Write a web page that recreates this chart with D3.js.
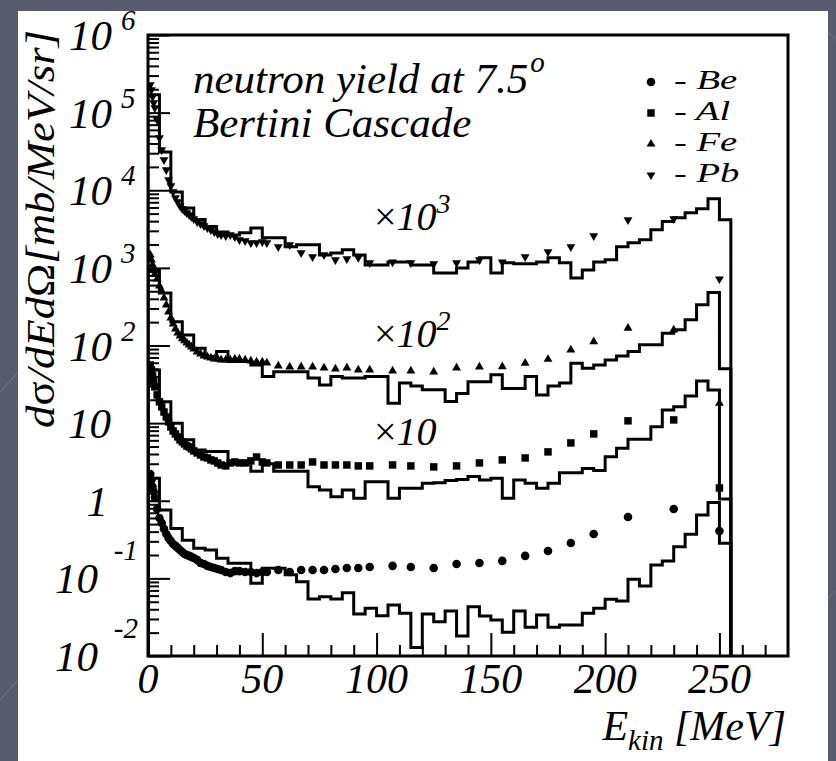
<!DOCTYPE html>
<html><head><meta charset="utf-8">
<script src="https://cdn.jsdelivr.net/npm/d3@7"></script>
<style>
body{margin:0;background:#585b6b;}
svg{display:block}
text{font-family:"Liberation Serif","Times New Roman",serif;font-style:italic;fill:#000}
</style></head><body>
<svg id="c" width="836" height="761"></svg>
<script>
// ---------------- DATA ----------------
// histogram bin edges (MeV), 5 MeV bins
const binEdges = [0,5,10,15,20,25,30,35,40,45,50,55,60,65,70,75,80,85,90,95,100,105,110,115,120,125,130,135,140,145,150,155,160,165,170,175,180,185,190,195,200,205,210,215,220,225,230,235,240,245,250,255];

// Bertini cascade histograms, true cross sections [mb/MeV/sr]
const histBe = [1.95,0.76,0.44,0.31,0.244,0.232,0.182,0.157,0.157,0.0865,
  0.135,0.135,0.111,0.0906,0.0543,0.058,0.0543,0.0655,0.0348,0.0412,
  0.033,0.0454,0.0355,0.0129,0.0348,0.0277,0.038,0.0181,0.0431,0.0327,
  0.0291,0.0202,0.038,0.0234,0.0337,0.0234,0.0251,0.0251,0.0355,0.0412,
  0.0538,0.0512,0.0973,0.0798,0.149,0.168,0.256,0.37,0.656,0.946,
  0.283];
const histAl = [4.85,1.89,1.0,0.61,0.45,0.43,0.43,0.30,0.30,0.24,
  0.30,0.24,0.24,0.24,0.152,0.138,0.113,0.138,0.108,0.176,
  0.176,0.108,0.145,0.145,0.168,0.170,0.182,0.188,0.205,0.185,
  0.195,0.108,0.185,0.168,0.145,0.168,0.23,0.23,0.26,0.245,
  0.37,0.475,0.62,0.62,0.90,1.48,1.63,2.24,3.50,2.68,
  0.105];
const histFe = [9.4,4.76,2.03,1.37,0.92,0.72,0.84,0.62,0.62,0.56,
  0.40,0.46,0.46,0.46,0.38,0.31,0.40,0.38,0.38,0.40,
  0.40,0.18,0.33,0.30,0.27,0.27,0.19,0.24,0.34,0.34,
  0.42,0.28,0.28,0.40,0.23,0.30,0.33,0.59,0.51,0.56,
  0.65,0.73,0.84,1.02,1.02,1.44,1.59,2.14,3.34,4.81,
  0.50];
const histPb = [170,31,9.5,5.9,4.2,3.4,2.9,2.66,2.83,3.27,
  2.44,2.44,1.87,1.98,1.98,1.47,1.56,1.71,1.47,1.09,
  1.09,1.19,1.19,1.09,1.09,0.86,0.86,1.0,1.19,1.35,
  0.86,1.16,1.13,1.13,1.19,1.35,1.16,0.74,0.94,1.19,
  1.27,1.87,2.10,2.30,3.09,3.95,4.41,5.12,5.77,7.75,
  4.16];

// experimental data points (MeV)
const markerEnergy = [1,1.5,2,2.5,3,4,5,6,7,8,9,10,11,12,13,14,15,16,17,18,19,20,
  21.5,23,24.5,26,27.5,29,30.5,32,34,36,38,40,42.5,45,47.5,50,
  52,57,62,67,72,77,82,87,92,97,107,115,125,135,145,155,165,175,185,195,210,230,250];
const dataBe = [2.21,1.85,1.51,1.30,1.09,
  0.783,0.600,0.518,0.434,0.373,0.332,0.303,0.277,0.262,0.247,0.232,0.219,0.206,0.200,0.195,0.189,0.183,
  0.173,0.158,0.153,0.145,0.140,0.136,0.132,
  0.128,0.121,0.117,0.124,0.124,
  0.121,0.121,0.117,0.121,
  0.121,0.128,0.121,0.128,0.128,0.128,0.132,0.136,0.136,0.140,
  0.145,0.140,
  0.136,0.153,0.158,0.168,0.195,0.225,0.286,0.373,
  0.618,0.783,0.408];
const dataAl = [5.62,4.85,4.06,3.40,2.93,
  2.31,1.88,1.62,1.39,1.20,1.04,0.893,0.793,0.726,0.664,0.608,0.573,0.540,0.508,0.493,0.466,0.439,
  0.413,0.389,0.366,0.356,0.336,0.326,0.307,
  0.289,0.281,0.307,0.316,0.307,
  0.307,0.326,0.366,0.316,
  0.307,0.289,0.289,0.289,0.316,0.289,0.289,0.289,0.281,0.281,
  0.289,0.281,
  0.273,0.281,0.307,0.336,0.356,0.426,0.556,0.726,
  1.07,1.10,0.146];
const dataFe = [14.7,12.7,10.9,9.42,8.37,
  7.21,5.86,5.06,4.10,3.34,2.71,2.27,1.90,1.64,1.45,1.33,1.22,1.15,1.08,1.02,0.96,0.904,
  0.828,0.780,0.735,0.713,0.692,0.671,0.671,
  0.652,0.652,0.652,0.671,0.671,
  0.652,0.634,0.615,0.615,
  0.597,0.546,0.530,0.530,0.530,0.514,0.499,0.514,0.485,0.485,
  0.471,0.471,
  0.457,0.514,0.530,0.535,0.592,0.665,0.877,1.12,
  1.67,1.59,0.180];
const dataPb = [228,197,160,134,115,
  80.7,47.3,33.2,24.7,18.3,13.6,11.4,9.53,7.98,7.09,6.30,5.75,5.43,5.12,4.82,4.54,4.28,
  3.92,3.69,3.48,3.27,3.09,2.91,2.74,
  2.66,2.58,2.66,2.51,2.30,
  2.23,2.10,2.10,2.16,
  2.10,1.87,1.98,1.56,1.39,1.47,1.27,1.31,1.35,1.16,
  1.19,1.16,
  1.13,1.16,1.27,1.19,1.39,1.61,1.87,2.58,
  4.16,4.28,0.72];

// targets, display multipliers and legend
const targets = ["Be","Al","Fe","Pb"];
const multipliers = [1,10,100,1000];
const multiplierLabels = [null,"10",["10","2"],["10","3"]];

// axes
const xTicks = [0,50,100,150,200,250];
const xMinorTicks = [10,20,30,40,60,70,80,90,110,120,130,140,160,170,180,190,210,220,230,240,260,270];
const yDecades = [-2,-1,0,1,2,3,4,5,6];
const xTitle = ["E","kin"," [MeV]"];
const yTitleParts = [["d",1],["σ",0],["/dEd",1],["Ω",0],["[mb/MeV/sr]",1]];
const textLine1 = ["neutron yield at 7.5","o"];
const textLine2 = "Bertini Cascade";

// ---------------- DRAW ----------------
const svg = d3.select("#c");
const W = 836, H = 761;
const L = 148, R = 788, T = 35, B = 656;

svg.append("rect").attr("width",W).attr("height",H).attr("fill","#585b6b");
// faint slide decoration
svg.append("path").attr("d","M0,392 L18,372 M0,700 L18,680 M826,30 L836,40 M826,600 L836,590")
  .attr("stroke","#6a6d7c").attr("stroke-width",1.2);
svg.append("rect").attr("x",18).attr("y",11).attr("width",810).attr("height",750).attr("fill","#fff");

const x = d3.scaleLinear().domain([0,280]).range([L,R]);
const y = d3.scaleLog().domain([1e-2,1e6]).range([B,T]);

svg.append("clipPath").attr("id","clip").append("rect")
  .attr("x",L).attr("y",T).attr("width",R-L).attr("height",B-T);

// ticks (inside)
const xMajor = d3.axisTop(x).tickValues(xTicks).tickSizeInner(23).tickSizeOuter(0).tickFormat("");
const xMinor = d3.axisTop(x).tickValues(xMinorTicks).tickSizeInner(11).tickSizeOuter(0).tickFormat("");
svg.append("g").attr("transform",`translate(0,${B})`).call(xMajor);
svg.append("g").attr("transform",`translate(0,${B})`).call(xMinor);

const yMajorVals = yDecades.map(e => Math.pow(10,e));
const yMinorVals = [];
yDecades.slice(0,-1).forEach(e => { for (let k=2;k<=9;k++) yMinorVals.push(k*Math.pow(10,e)); });
svg.append("g").attr("transform",`translate(${L},0)`)
  .call(d3.axisRight(y).tickValues(yMajorVals).tickSizeInner(22).tickSizeOuter(0).tickFormat(""));
svg.append("g").attr("transform",`translate(${L},0)`)
  .call(d3.axisRight(y).tickValues(yMinorVals).tickSizeInner(11).tickSizeOuter(0).tickFormat(""));
svg.selectAll(".domain").remove();
svg.selectAll(".tick line").attr("stroke","#000").attr("stroke-width",2);

// histograms
const yMin = y.domain()[0];
function histPoints(vals, f){
  const pts = [[binEdges[0], yMin]];
  vals.forEach((v,i) => { pts.push([binEdges[i], v*f]); pts.push([binEdges[i+1], v*f]); });
  pts.push([binEdges[vals.length], yMin]);
  return pts;
}
const line = d3.line().x(d => x(d[0])).y(d => y(Math.max(d[1], yMin)));
const hists = [histBe, histAl, histFe, histPb];
const gH = svg.append("g").attr("clip-path","url(#clip)");
hists.forEach((h,i) => {
  gH.append("path").attr("d", line(histPoints(h, multipliers[i])))
    .attr("fill","none").attr("stroke","#000").attr("stroke-width",3)
    .attr("stroke-linejoin","miter");
});

// markers
const symbols = [
  d3.symbol().type(d3.symbolCircle).size(58),
  d3.symbol().type(d3.symbolSquare).size(56),
  d3.symbol().type(d3.symbolTriangle).size(34),
  d3.symbol().type(d3.symbolTriangle).size(34)
];
const rot = [0,0,0,180];
const datas = [dataBe, dataAl, dataFe, dataPb];
const gM = svg.append("g").attr("clip-path","url(#clip)");
datas.forEach((ds,i) => {
  gM.selectAll(null).data(ds.map((v,j) => [markerEnergy[j], v*multipliers[i]])).enter()
    .append("path").attr("d", symbols[i]())
    .attr("transform", d => `translate(${x(d[0])},${y(d[1])}) rotate(${rot[i]})`)
    .attr("fill","#000");
});

// frame
svg.append("rect").attr("x",L).attr("y",T).attr("width",R-L).attr("height",B-T)
  .attr("fill","none").attr("stroke","#000").attr("stroke-width",3);

// x tick labels
svg.selectAll(null).data(xTicks).enter().append("text")
  .attr("x", d => x(d)).attr("y", 693).attr("text-anchor","middle")
  .attr("font-size",42).text(d => d);

// y tick labels
yDecades.forEach(e => {
  const ty = y(Math.pow(10,e));
  if (e === 0) {
    svg.append("text").attr("x",108).attr("y",ty+15).attr("text-anchor","end").attr("font-size",43).text("1");
  } else if (e === 1) {
    svg.append("text").attr("x",111).attr("y",ty+15).attr("text-anchor","end").attr("font-size",43).text("10");
  } else if (e > 1) {
    svg.append("text").attr("x",112).attr("y",ty+15).attr("text-anchor","end").attr("font-size",43).text("10");
    svg.append("text").attr("x",121).attr("y",ty-5).attr("font-size",29).text(e);
  } else {
    svg.append("text").attr("x",98).attr("y",ty+15).attr("text-anchor","end").attr("font-size",43).text("10");
    svg.append("text").attr("x",138).attr("y",ty-18).attr("text-anchor","end").attr("font-size",29).text(e);
  }
});

// axis titles
const xt = svg.append("text").attr("x",786).attr("y",740).attr("text-anchor","end").attr("font-size",42);
xt.append("tspan").text(xTitle[0]);
xt.append("tspan").attr("dy",10).attr("font-size",29).text(xTitle[1]);
xt.append("tspan").attr("dy",-10).text(xTitle[2]);

const yt = svg.append("text").attr("transform","translate(54,30) rotate(-90)")
  .attr("text-anchor","end").attr("font-size",40)
  .attr("textLength",398).attr("lengthAdjust","spacingAndGlyphs");
yTitleParts.forEach(p => yt.append("tspan").attr("font-style", p[1] ? "italic" : "normal").text(p[0]));

// annotation
const t1 = svg.append("text").attr("x",193).attr("y",93).attr("font-size",43).text(textLine1[0]);
const w1 = t1.node().getComputedTextLength();
svg.append("text").attr("x",193+w1+2).attr("y",72).attr("font-size",29).text(textLine1[1]);
svg.append("text").attr("x",193).attr("y",137).attr("font-size",43).text(textLine2);

// multiplier labels
const multPos = [null,[374,445],[374,347],[374,230]];
[1,2,3].forEach(i => {
  const lab = multiplierLabels[i];
  const t = svg.append("text").attr("x",multPos[i][0]).attr("y",multPos[i][1]).attr("font-size",40);
  t.append("tspan").attr("font-style","normal").text("×");
  if (Array.isArray(lab)) {
    t.append("tspan").text(lab[0]);
    t.append("tspan").attr("dy",-17).attr("font-size",28).text(lab[1]);
  } else {
    t.append("tspan").text(lab);
  }
});

// legend (text drawn wide and short, as in the original)
const legY = [82,113,144,175];
targets.forEach((nm,i) => {
  svg.append("path").attr("d", symbols[i]())
    .attr("transform", `translate(651,${legY[i]}) rotate(${rot[i]})`).attr("fill","#000");
  svg.append("text").attr("transform",`translate(674,${legY[i]+7}) scale(1.38,1)`)
    .attr("font-size",28).text("- " + nm);
});
</script>
</body></html>
